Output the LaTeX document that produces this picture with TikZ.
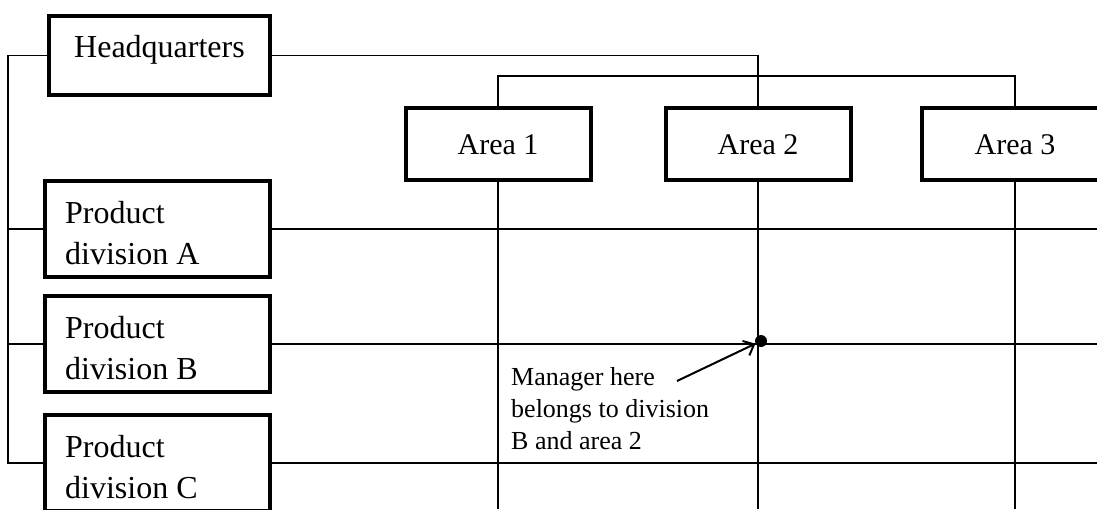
\documentclass[tikz,border=0pt]{standalone}
\usepackage{fontspec}
\setmainfont{Liberation Serif}
\usetikzlibrary{arrows.meta}
\begin{document}
\begin{tikzpicture}[x=1pt,y=-1pt,
  wire/.style={line width=1.3pt},
  unitbox/.style={draw, line width=4pt, inner sep=0pt, font=\fontsize{32}{41}\selectfont},
  areabox/.style={draw, line width=4pt, inner sep=0pt, font=\fontsize{30}{36}\selectfont,
    minimum width=185pt, text height=46pt, text depth=26pt, anchor=base},
  divbox/.style={draw, line width=4pt, inner sep=0pt, minimum width=225pt, minimum height=96pt},
  divtext/.style={inner sep=0pt, anchor=base west, font=\fontsize{32}{41}\selectfont},
  notetext/.style={inner sep=0pt, anchor=base west, font=\fontsize{26}{32}\selectfont},
  junction/.style={circle, fill, inner sep=0pt, minimum size=12pt}
]
\useasboundingbox (0,0) rectangle (1097,509);

% headquarters and the three areas
\node[unitbox, minimum width=221pt, text height=41pt, text depth=38pt, anchor=base] (hq) at (159.5,57) {Headquarters};
\node[areabox] (a1) at (498,154) {Area 1};
\node[areabox] (a2) at (758,154) {Area 2};
\node[areabox, minimum width=186pt] (a3) at (1015,154) {Area 3};

% product divisions
\node[divbox] (pa) at (157.5,229) {};
\node[divbox] (pb) at (157.5,344) {};
\node[divbox] (pc) at (157.5,463) {};
\node[divtext] (ta) at (65,223) {\begin{tabular}[t]{@{}l@{}}Product\\division A\end{tabular}};
\node[divtext] (tb) at (65,338) {\begin{tabular}[t]{@{}l@{}}Product\\division B\end{tabular}};
\node[divtext] (tc) at (65,457) {\begin{tabular}[t]{@{}l@{}}Product\\division C\end{tabular}};

% helper coordinates for the open ends
\coordinate (lb) at (8,0);
\coordinate (rb) at (1097,0);
\coordinate (bb) at (0,509);
\coordinate (abar) at (0,76);

% headquarters to the area bracket
\draw[wire] (hq.east) -| (a2.north);
\draw[wire] (a1.north) -- (a1.north |- abar) -| (a3.north);

% left bracket linking the divisions to headquarters
\draw[wire] (hq.west) -- (hq.west -| lb) |- (pc.west);
\draw[wire] (pa.west) -- (pa.west -| lb);
\draw[wire] (pb.west) -- (pb.west -| lb);

% matrix rows
\draw[wire] (pa.east) -- (pa.east -| rb);
\draw[wire] (pb.east) -- (pb.east -| rb);
\draw[wire] (pc.east) -- (pc.east -| rb);

% matrix columns
\draw[wire] (a1.south) -- (a1.south |- bb);
\draw[wire] (a2.south) -- (a2.south |- bb);
\draw[wire] (a3.south) -- (a3.south |- bb);

% the manager at division B / area 2
\node[junction, xshift=3pt, yshift=3pt] (mgr) at (a2.south |- pb.east) {};
\node[notetext] (note) at (511,385) {\begin{tabular}[t]{@{}l@{}}Manager here\\belongs to division\\B and area 2\end{tabular}};
\coordinate (tail) at (677,381);
\draw[line width=2pt, -{Straight Barb[length=9pt, width=16pt, line width=2pt]}] (tail) -- (mgr);
\end{tikzpicture}
\end{document}
